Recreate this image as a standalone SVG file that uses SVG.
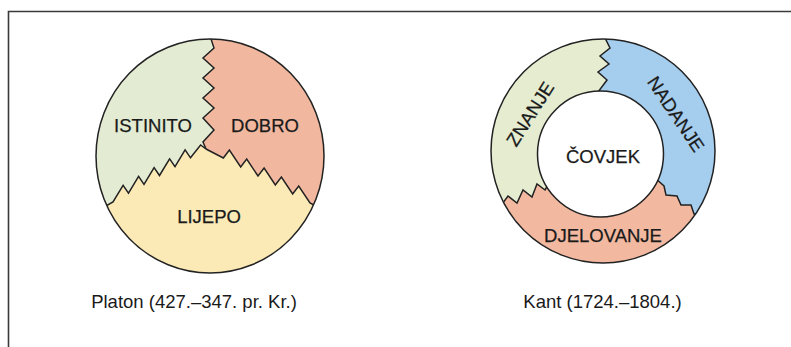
<svg xmlns="http://www.w3.org/2000/svg" width="791" height="347" viewBox="0 0 791 347">
<style>
.lbl{font-family:"Liberation Sans",Arial,sans-serif;font-size:18.5px;fill:#1a1a1a;text-anchor:middle;stroke:#1a1a1a;stroke-width:0.25}
.zz{fill:none;stroke:#222;stroke-width:1.5;stroke-linejoin:miter}
.outline{fill:none;stroke:#222;stroke-width:1.5}
.frame{fill:none;stroke:#3a3a3a;stroke-width:1.6}
</style>
<defs>
<clipPath id="cpPlaton"><ellipse cx="210" cy="156" rx="114" ry="117"/></clipPath>
<clipPath id="cpKant"><circle cx="603" cy="151" r="112"/></clipPath>
</defs>
<rect width="791" height="347" fill="#ffffff"/>
<path class="frame" d="M8.5 347 V11.5 H791"/>

<g id="platon">
  <g clip-path="url(#cpPlaton)">
    <ellipse cx="210" cy="156" rx="114" ry="117" fill="#fbe9b6"/>
    <polygon fill="#e3ebd3" points="211,20 211,39 214,48 203,58 214,68 203,78 214,88 203,98 214,108 203,118 214,130 203,142 206,149 200.6,145 190.5,157.83 185.1,149.9 175,166.67 169.6,158.8 159.5,175.5 154.1,167.6 144,184.33 138.6,176.4 128.5,193.17 123.1,185.3 113,202 90,215 60,230 60,20"/>
    <polygon fill="#f1b89f" points="211,20 211,39 214,48 203,58 214,68 203,78 214,88 203,98 214,108 203,118 214,130 203,142 206,149 223.33,158 229.4,150.15 240.67,167 246.7,159.15 258,176 264.1,168.15 275.33,185 281.4,177.15 292.67,194 298.7,186.15 310,203 334,216 360,230 360,20"/>
    <polyline class="zz" points="211,30 211,39 214,48 203,58 214,68 203,78 214,88 203,98 214,108 203,118 214,130 203,142 206,149"/>
    <polyline class="zz" points="206,149 200.6,145 190.5,157.83 185.1,149.9 175,166.67 169.6,158.8 159.5,175.5 154.1,167.6 144,184.33 138.6,176.4 128.5,193.17 123.1,185.3 113,202 90,215"/>
    <polyline class="zz" points="206,149 223.33,158 229.4,150.15 240.67,167 246.7,159.15 258,176 264.1,168.15 275.33,185 281.4,177.15 292.67,194 298.7,186.15 310,203 334,216"/>
  </g>
  <ellipse class="outline" cx="210" cy="156" rx="114" ry="117"/>
  <text class="lbl" x="153" y="132">ISTINITO</text>
  <text class="lbl" x="265" y="132">DOBRO</text>
  <text class="lbl" x="209" y="223">LIJEPO</text>
</g>

<g id="kant">
  <g clip-path="url(#cpKant)">
    <circle cx="603" cy="151" r="112" fill="#f3b9a0"/>
    <polygon fill="#e5ecd0" points="605,20 605,38 610,48 600,56 609,64 598,72 607,80 598,92 598,140 560,170 552,178 545,190 537,184 532,197 523,190 517,203 508,196 500,207 480,216 470,216 470,20"/>
    <polygon fill="#a5cdee" points="605,20 605,38 610,48 600,56 609,64 598,72 607,80 598,92 600,140 648,172 655,178 664,186 666,195 677,196 681,205 691,205 694,214 704,214 725,225 740,225 740,20"/>
    <polyline class="zz" points="605,30 605,38 610,48 600,56 609,64 598,72 607,80 598,92 598,100"/>
    <polyline class="zz" points="560,170 552,178 545,190 537,184 532,197 523,190 517,203 508,196 500,207 480,216"/>
    <polyline class="zz" points="648,172 655,178 664,186 666,195 677,196 681,205 691,205 694,214 704,214 725,225"/>
  </g>
  <circle class="outline" cx="603" cy="151" r="112"/>
  <circle cx="600.5" cy="154" r="63" fill="#ffffff" stroke="#222" stroke-width="1.5"/>
  <g transform="translate(530,114) rotate(-57.5)"><text class="lbl" x="0" y="6.5">ZNANJE</text></g>
  <g transform="translate(676,114) rotate(56)"><text class="lbl" x="0" y="6.5">NADANJE</text></g>
  <text class="lbl" x="603" y="163">ČOVJEK</text>
  <text class="lbl" x="603" y="242">DJELOVANJE</text>
</g>

<g id="captions">
  <text class="lbl" x="194" y="308" style="stroke-width:0">Platon (427.–347. pr. Kr.)</text>
  <text class="lbl" x="602.5" y="308" style="stroke-width:0">Kant (1724.–1804.)</text>
</g>
</svg>
